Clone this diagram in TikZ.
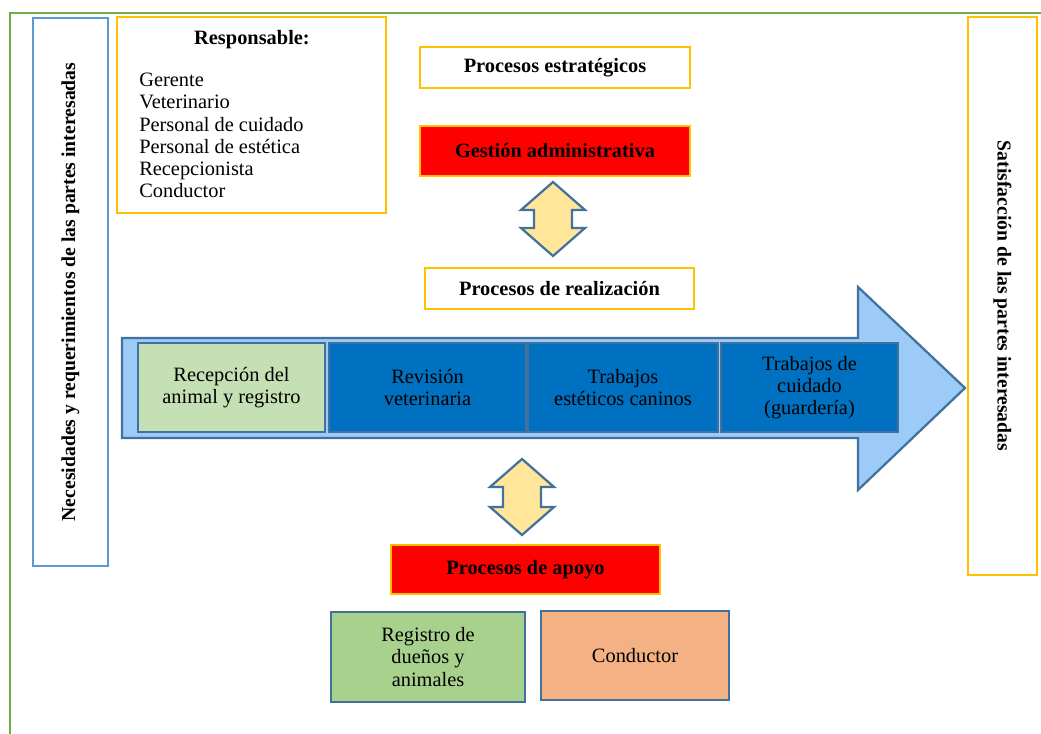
\documentclass[tikz,border=0pt]{standalone}
\usepackage{fontspec}
\setmainfont{Liberation Serif}
\usetikzlibrary{arrows}
\definecolor{mapyellow}{HTML}{FFC000}
\definecolor{mapgreen}{HTML}{70AD47}
\definecolor{mapblue}{HTML}{5B9BD5}
\definecolor{mapsteel}{HTML}{41719C}
\definecolor{mapsky}{HTML}{9DCBF7}
\definecolor{mapdeep}{HTML}{0070C0}
\definecolor{mapsand}{HTML}{FFE699}
\definecolor{maplime}{HTML}{C5E0B4}
\definecolor{mapleaf}{HTML}{A9D18E}
\definecolor{mappeach}{HTML}{F4B183}
\newcommand{\dblarrow}[4]{% centre x, top, bottom, name
	\draw[dblarr] (#1,#2) -- ({#1+32},{#2+28}) -- ({#1+19},{#2+28}) -- ({#1+19},{#3-28})
		-- ({#1+32},{#3-28}) -- (#1,#3) -- ({#1-32},{#3-28}) -- ({#1-19},{#3-28})
		-- ({#1-19},{#2+28}) -- ({#1-32},{#2+28}) -- cycle;}

\begin{document}
\begin{tikzpicture}[x = 0.025cm, y = -0.025cm,
	every node/.style = {font = \fontsize{14.5}{15.8}\selectfont, align = center, inner sep = 0pt},
	yellowbox/.style = {draw = mapyellow, line width = 1.5pt, fill = white},
	redbox/.style = {draw = mapyellow, line width = 1.5pt, fill = red, font = \fontsize{14.5}{15.8}\selectfont\bfseries},
	sidebox/.style = {line width = 1.6pt, font = \fontsize{14}{15}\selectfont\bfseries},
	stepbox/.style = {draw = mapsteel, line width = 1.8pt, minimum height = 2.225cm},
	dblarr/.style = {draw = mapsteel, line width = 1.6pt, fill = mapsand, line join = miter}]

	\useasboundingbox (0,0) rectangle (1041,734);

	% outer frame
	\draw[mapgreen, line width = 1.5pt] (10,734) -- (10,13) -- (1041,13);

	% side boxes
	\node (needs)  at (70.5, 292)  [sidebox, draw = mapblue, rotate = 90, minimum width = 13.7cm, minimum height = 1.875cm]
		{Necesidades y requerimientos de las partes interesadas};
	\node (satisf) at (1002.5, 296) [sidebox, draw = mapyellow, rotate = -90, minimum width = 13.95cm, minimum height = 1.725cm]
		{Satisfacción de las partes interesadas};

	% responsables
	\node (resp) at (251.5, 115) [yellowbox, minimum width = 6.725cm, minimum height = 4.9cm] {};
	\node (resptitle) at (252, 40) [font = \fontsize{14.5}{15.8}\selectfont\bfseries] {Responsable:};
	\node (resplist) at (139, 135.5) [anchor = west, align = left]
		{Gerente\\Veterinario\\Personal de cuidado\\Personal de estética\\Recepcionista\\Conductor};

	% strategic / realisation / support
	\node (estrat)  at (555, 67.5)    [yellowbox, minimum width = 6.75cm,  minimum height = 1.025cm, font = \fontsize{14.5}{15.8}\selectfont\bfseries] {Procesos estratégicos};
	\node (gestion) at (555, 151)     [redbox, minimum width = 6.75cm,  minimum height = 1.25cm] {Gestión administrativa};
	\node (realiz)  at (559.5, 288.5) [yellowbox, minimum width = 6.725cm, minimum height = 1.025cm, font = \fontsize{14.5}{15.8}\selectfont\bfseries] {Procesos de realización};
	\node (apoyo)   at (525.5, 569.5) [redbox, minimum width = 6.725cm, minimum height = 1.225cm] {Procesos de apoyo};

	% main arrow
	\draw[draw = mapsteel, line width = 1.6pt, fill = mapsky, line join = miter]
		(122,338) -- (858,338) -- (858,287) -- (965,388) -- (858,490) -- (858,438) -- (122,438) -- cycle;

	\node (recep) at (231.5, 387.5) [stepbox, fill = maplime, minimum width = 4.675cm] {Recepción del\\animal y registro};
	\node (revis) at (427.5, 387.5) [stepbox, fill = mapdeep, minimum width = 4.925cm] {Revisión\\veterinaria};
	\node (estet) at (623, 387.5)   [stepbox, fill = mapdeep, minimum width = 4.75cm]  {Trabajos\\estéticos caninos};
	\node (cuid)  at (809.5, 387.5) [stepbox, fill = mapdeep, minimum width = 4.425cm] {Trabajos de\\cuidado\\(guardería)};

	% support boxes
	\node (regis) at (428, 657)   [stepbox, fill = mapleaf,  minimum width = 4.85cm, minimum height = 2.25cm] {Registro de\\dueños y\\animales};
	\node (cond)  at (635, 655.5) [stepbox, fill = mappeach, minimum width = 4.7cm] {Conductor};

	% double arrows
	\dblarrow{553}{182}{256}{upper}
	\dblarrow{522}{459}{535}{lower}

\end{tikzpicture}
\end{document}
